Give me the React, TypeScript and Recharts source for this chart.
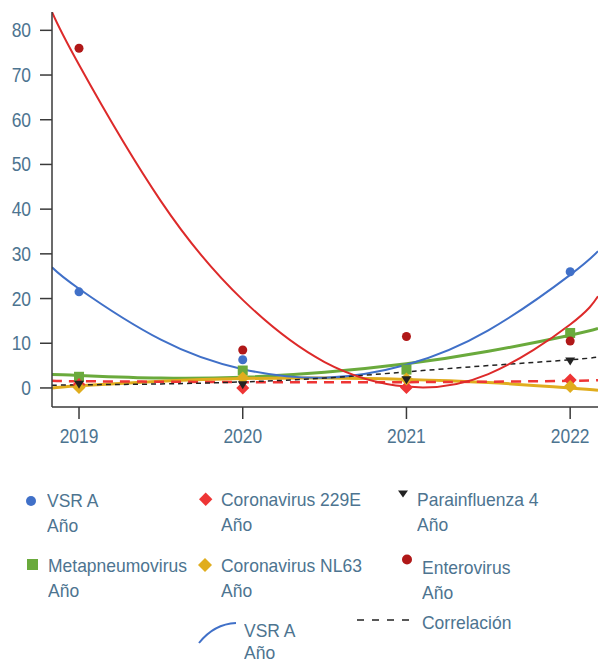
import { ComposedChart, Line, Scatter, XAxis, YAxis } from 'recharts'

const years = [2019, 2020, 2021, 2022]
const vsrA = [21.5, 6.3, 4.1, 26.0]
const coronavirus229E = [0.8, 0.0, 0.1, 1.8]
const parainfluenza4 = [0.7, 0.6, 1.7, 5.9]
const metapneumovirus = [2.5, 3.9, 4.1, 12.3]
const coronavirusNL63 = [0.1, 2.2, 2.0, 0.3]
const enterovirus = [76.0, 8.5, 11.5, 10.5]

// trend curves at these years
const trendYears = [2018.835, 2019, 2019.5, 2020, 2020.5, 2021, 2021.5, 2022, 2022.17]
const vsrATrend = [27.0, 22.2, 10.8, 4.2, 2.3, 5.2, 12.9, 25.3, 30.6]
const enteroTrend = [84.1, 72.3, 41.8, 19.7, 5.8, 0.3, 3.1, 14.2, 20.5]
const metaTrend = [3.0, 2.8, 2.2, 2.4, 3.5, 5.4, 8.2, 11.8, 13.3]
const nl63Trend = [0.0, 0.5, 1.5, 2.1, 2.2, 1.9, 1.2, 0.0, -0.5]
const c229ETrend = [1.6, 1.5, 1.4, 1.3, 1.25, 1.3, 1.4, 1.6, 1.75]
const correlTrend = [0.6, 0.7, 0.9, 1.35, 2.2, 3.6, 5.0, 6.3, 6.9]

const xTicks = [2019, 2020, 2021, 2022]
const yTicks = [0, 10, 20, 30, 40, 50, 60, 70, 80]

const BLUE = '#4070c8'
const RED = '#dd2a2a'
const DARK_RED = '#b01818'
const DIAMOND_RED = '#ee3535'
const GREEN = '#6aaa3c'
const GOLD = '#e0ad1e'
const BLACK = '#222'
const TEXT = '#4d7490'
const FONT = "'Liberation Sans', Arial, sans-serif"

const pts = (xs: number[], ys: number[]) => xs.map((x, i) => ({ x, y: ys[i] }))

const dot = (color: string, r: number) => (p: any) => <circle cx={p.cx} cy={p.cy} r={r} fill={color} />
const square = (color: string, s: number) => (p: any) => (
  <rect x={p.cx - s / 2} y={p.cy - s / 2} width={s} height={s} fill={color} />
)
const diamond = (color: string, h: number) => (p: any) => (
  <polygon points={`${p.cx},${p.cy - h} ${p.cx + h},${p.cy} ${p.cx},${p.cy + h} ${p.cx - h},${p.cy}`} fill={color} />
)
const triDown = (color: string) => (p: any) => (
  <polygon points={`${p.cx - 5},${p.cy - 4} ${p.cx + 5},${p.cy - 4} ${p.cx},${p.cy + 4}`} fill={color} />
)

function XTick({ x, y, payload }: any) {
  return (
    <text transform={`translate(${x},${y + 24}) scale(0.87,1)`} textAnchor="middle" fontSize={20} fill={TEXT} fontFamily={FONT}>
      {payload.value}
    </text>
  )
}

function YTick({ x, y, payload }: any) {
  return (
    <text transform={`translate(${x - 9},${y + 7}) scale(0.87,1)`} textAnchor="end" fontSize={20} fill={TEXT} fontFamily={FONT}>
      {payload.value}
    </text>
  )
}

const legendText = (left: number, top: number, lines: string[], lh = 25) => (
  <div
    key={lines[0] + left}
    style={{
      position: 'absolute',
      left,
      top,
      fontSize: 19,
      lineHeight: `${lh}px`,
      color: TEXT,
      fontFamily: FONT,
      whiteSpace: 'nowrap',
      transform: 'scaleX(0.92)',
      transformOrigin: 'left top',
    }}
  >
    {lines.map((l) => (
      <div key={l}>{l}</div>
    ))}
  </div>
)

function LegendBlock() {
  return (
    <>
      <svg width={598} height={664} style={{ position: 'absolute', left: 0, top: 0, pointerEvents: 'none' }}>
        <circle cx={31} cy={501} r={5} fill={BLUE} />
        <polygon points="205.7,492.5 212.4,499.2 205.7,505.9 199,499.2" fill={DIAMOND_RED} />
        <polygon points="398,490.5 408,490.5 403,497.5" fill={BLACK} />
        <rect x={27} y={559} width={11} height={11} fill={GREEN} />
        <polygon points="205,558 212,565 205,572 198,565" fill={GOLD} />
        <circle cx={407} cy={559.5} r={5} fill={DARK_RED} />
        <path d="M199,643 Q214,624 236,623" stroke={BLUE} strokeWidth={2} fill="none" />
        <line x1={357} y1={620} x2={410} y2={620} stroke={BLACK} strokeWidth={1.5} strokeDasharray="7 8" />
      </svg>
      {legendText(47, 488, ['VSR A', 'Año'])}
      {legendText(221, 487, ['Coronavirus 229E', 'Año'])}
      {legendText(417, 486.5, ['Parainfluenza 4', 'Año'])}
      {legendText(48, 553, ['Metapneumovirus', 'Año'])}
      {legendText(221, 553, ['Coronavirus NL63', 'Año'])}
      {legendText(421.5, 555, ['Enterovirus', 'Año'])}
      {legendText(244, 619.5, ['VSR A', 'Año'], 22)}
      {legendText(421.5, 609.5, ['Correlación'])}
    </>
  )
}

export default function App() {
  return (
    <div style={{ position: 'relative', width: 598, height: 664, background: '#fff' }}>
      <style>{'body{margin:0}'}</style>
      <ComposedChart width={598} height={664} margin={{ top: 12, right: 0, bottom: 0, left: 0 }}>
        <XAxis
          type="number"
          dataKey="x"
          domain={[2018.835, 2022.17]}
          ticks={xTicks}
          allowDataOverflow
          height={257}
          tickSize={12}
          tickMargin={0}
          tick={<XTick />}
          stroke="#3a3a3a"
          strokeWidth={1.5}
        />
        <YAxis
          type="number"
          dataKey="y"
          domain={[-4.26, 84.1]}
          ticks={yTicks}
          allowDataOverflow
          width={52}
          tickSize={12}
          tickMargin={0}
          tick={<YTick />}
          stroke="#3a3a3a"
          strokeWidth={1.5}
        />
        <Line data={pts(trendYears, metaTrend)} dataKey="y" type="natural" stroke={GREEN} strokeWidth={3} dot={false} isAnimationActive={false} />
        <Line data={pts(trendYears, nl63Trend)} dataKey="y" type="natural" stroke={GOLD} strokeWidth={3} dot={false} isAnimationActive={false} />
        <Line data={pts(trendYears, vsrATrend)} dataKey="y" type="natural" stroke={BLUE} strokeWidth={2} dot={false} isAnimationActive={false} />
        <Line data={pts(trendYears, c229ETrend)} dataKey="y" type="natural" stroke={DIAMOND_RED} strokeWidth={2.5} strokeDasharray="10 7" dot={false} isAnimationActive={false} />
        <Line data={pts(trendYears, correlTrend)} dataKey="y" type="natural" stroke={BLACK} strokeWidth={1.5} strokeDasharray="5 4" dot={false} isAnimationActive={false} />
        <Line data={pts(trendYears, enteroTrend)} dataKey="y" type="natural" stroke={RED} strokeWidth={2} dot={false} isAnimationActive={false} />
        <Scatter data={pts(years, vsrA)} dataKey="y" shape={dot(BLUE, 4.5)} isAnimationActive={false} />
        <Scatter data={pts(years, metapneumovirus)} dataKey="y" shape={square(GREEN, 10)} isAnimationActive={false} />
        <Scatter data={pts(years, coronavirus229E)} dataKey="y" shape={diamond(DIAMOND_RED, 6.5)} isAnimationActive={false} />
        <Scatter data={pts(years, coronavirusNL63)} dataKey="y" shape={diamond(GOLD, 6.5)} isAnimationActive={false} />
        <Scatter data={pts(years, parainfluenza4)} dataKey="y" shape={triDown(BLACK)} isAnimationActive={false} />
        <Scatter data={pts(years, enterovirus)} dataKey="y" shape={dot(DARK_RED, 4.5)} isAnimationActive={false} />
      </ComposedChart>
      <LegendBlock />
    </div>
  )
}
